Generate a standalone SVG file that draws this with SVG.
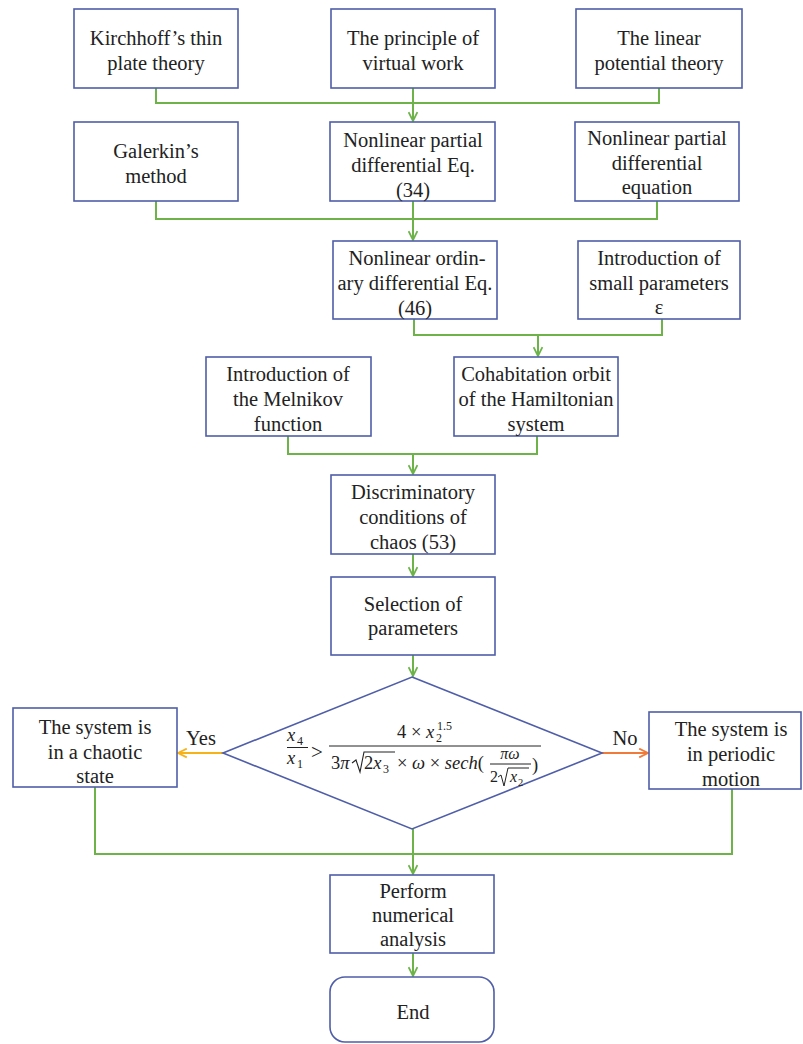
<svg xmlns="http://www.w3.org/2000/svg" width="803" height="1044" viewBox="0 0 803 1044">
<defs>
<style>
.box{fill:#fff;stroke:#4f5ea8;stroke-width:1.6}
.t{font-family:"Liberation Serif","Times New Roman","DejaVu Serif",serif;font-size:20.5px;fill:#222;text-anchor:middle}
.f{font-family:"Liberation Serif","Times New Roman","DejaVu Serif",serif;fill:#222}
.fi{font-style:italic}
.g{fill:none;stroke:#6db34a;stroke-width:2}
.y{fill:none;stroke:#f7b21a;stroke-width:2}
.o{fill:none;stroke:#f07a3a;stroke-width:2}
</style>
<marker id="ag" viewBox="0 0 10 10" refX="9" refY="5" markerWidth="5.5" markerHeight="5.5" markerUnits="strokeWidth" orient="auto"><path d="M1,1 L9,5 L1,9" fill="none" stroke="#6db34a" stroke-width="1.6"/></marker>
<marker id="ay" viewBox="0 0 10 10" refX="9" refY="5" markerWidth="5.5" markerHeight="5.5" markerUnits="strokeWidth" orient="auto"><path d="M1,1 L9,5 L1,9" fill="none" stroke="#f7b21a" stroke-width="1.6"/></marker>
<marker id="ao" viewBox="0 0 10 10" refX="9" refY="5" markerWidth="5.5" markerHeight="5.5" markerUnits="strokeWidth" orient="auto"><path d="M1,1 L9,5 L1,9" fill="none" stroke="#f07a3a" stroke-width="1.6"/></marker>
</defs>
<rect width="803" height="1044" fill="#fff"/>

<g id="connectors">
<path class="g" d="M156,88 V103 H659 V88"/>
<path class="g" d="M413,88 V121" marker-end="url(#ag)"/>
<path class="g" d="M156,201 V219 H657 V201"/>
<path class="g" d="M413,201 V240" marker-end="url(#ag)"/>
<path class="g" d="M414,319 V335 H662 V319"/>
<path class="g" d="M538,335 V356" marker-end="url(#ag)"/>
<path class="g" d="M288,436 V454 H537 V436"/>
<path class="g" d="M413,454 V474" marker-end="url(#ag)"/>
<path class="g" d="M413,554 V576" marker-end="url(#ag)"/>
<path class="g" d="M413,655 V676" marker-end="url(#ag)"/>
<path class="y" d="M223,753 H178" marker-end="url(#ay)"/>
<path class="o" d="M602,753 H648" marker-end="url(#ao)"/>
<path class="g" d="M95,787 V854 H732 V789"/>
<path class="g" d="M413,829 V874" marker-end="url(#ag)"/>
<path class="g" d="M413,953 V976" marker-end="url(#ag)"/>
<text class="t" x="201" y="745">Yes</text>
<text class="t" x="625" y="745">No</text>
</g>

<g id="n1"><rect class="box" x="74" y="9" width="164" height="79"/><text class="t" x="156" y="45">Kirchhoff’s thin</text><text class="t" x="156" y="70">plate theory</text></g>
<g id="n2"><rect class="box" x="331" y="9" width="164" height="79"/><text class="t" x="413" y="45">The principle of</text><text class="t" x="413" y="70">virtual work</text></g>
<g id="n3"><rect class="box" x="576" y="9" width="166" height="79"/><text class="t" x="659" y="45">The linear</text><text class="t" x="659" y="70">potential theory</text></g>
<g id="n4"><rect class="box" x="74" y="122" width="164" height="79"/><text class="t" x="156" y="158">Galerkin’s</text><text class="t" x="156" y="183">method</text></g>
<g id="n5"><rect class="box" x="330" y="122" width="165" height="79"/><text class="t" x="413" y="147">Nonlinear partial</text><text class="t" x="413" y="172">differential Eq.</text><text class="t" x="413" y="197">(34)</text></g>
<g id="n6"><rect class="box" x="575" y="122" width="164" height="79"/><text class="t" x="657" y="145">Nonlinear partial</text><text class="t" x="657" y="170">differential</text><text class="t" x="657" y="194">equation</text></g>
<g id="n7"><rect class="box" x="333" y="241" width="164" height="78"/><text class="t" x="417" y="265">Nonlinear ordin-</text><text class="t" x="415" y="290">ary differential Eq.</text><text class="t" x="415" y="315">(46)</text></g>
<g id="n8"><rect class="box" x="578" y="241" width="162" height="78"/><text class="t" x="659" y="265">Introduction of</text><text class="t" x="659" y="290">small parameters</text><text class="t" x="659" y="314">ε</text></g>
<g id="n9"><rect class="box" x="206" y="357" width="165" height="79"/><text class="t" x="288" y="381">Introduction of</text><text class="t" x="288" y="406">the Melnikov</text><text class="t" x="288" y="431">function</text></g>
<g id="n10"><rect class="box" x="454" y="357" width="164" height="79"/><text class="t" x="536" y="381">Cohabitation orbit</text><text class="t" x="536" y="406">of the Hamiltonian</text><text class="t" x="536" y="431">system</text></g>
<g id="n11"><rect class="box" x="331" y="475" width="164" height="79"/><text class="t" x="413" y="499">Discriminatory</text><text class="t" x="413" y="524">conditions of</text><text class="t" x="413" y="549">chaos (53)</text></g>
<g id="n12"><rect class="box" x="331" y="577" width="164" height="78"/><text class="t" x="413" y="611">Selection of</text><text class="t" x="413" y="635">parameters</text></g>
<g id="n13"><path d="M412,677 L602,753 L412,829 L223,753 Z" fill="#fff" stroke="#4f5ea8" stroke-width="1.6"/>
<g class="f">
<text x="287" y="741" font-size="18.5" class="fi">x</text><text x="297" y="745" font-size="12">4</text>
<line x1="287" y1="747.5" x2="308" y2="747.5" stroke="#222" stroke-width="1"/>
<text x="287" y="764" font-size="18.5" class="fi">x</text><text x="297" y="768" font-size="12">1</text>
<text x="311" y="759" font-size="21">&gt;</text>
<line x1="329" y1="746" x2="541" y2="746" stroke="#222" stroke-width="1"/>
<text x="397" y="738" font-size="18.5">4 × </text><text x="426" y="738" font-size="18.5" class="fi">x</text><text x="436" y="742" font-size="12">2</text><text x="437" y="730" font-size="12">1.5</text>
<text x="331" y="769" font-size="18.5">3<tspan class="fi">π</tspan></text>
<path d="M352,763 L356,760 L360,772 L364,752 L395,752" fill="none" stroke="#222" stroke-width="1.1"/>
<text x="364" y="769" font-size="18.5">2<tspan class="fi">x</tspan></text><text x="383" y="773" font-size="12">3</text>
<text x="397" y="769" font-size="18.5">× <tspan class="fi">ω</tspan> × <tspan class="fi">sech</tspan>(</text>
<text x="510" y="759" font-size="16" class="fi" text-anchor="middle">πω</text>
<line x1="490" y1="764" x2="531" y2="764" stroke="#222" stroke-width="1"/>
<text x="490" y="782" font-size="16">2</text>
<path d="M498,777 L501,775 L504,786 L508,768 L529,768" fill="none" stroke="#222" stroke-width="1"/>
<text x="510" y="782" font-size="16" class="fi">x</text><text x="518" y="786" font-size="10.5">2</text>
<text x="532" y="771" font-size="18.5">)</text>
</g></g>
<g id="n14"><rect class="box" x="13" y="708" width="164" height="79"/><text class="t" x="95" y="734">The system is</text><text class="t" x="95" y="759">in a chaotic</text><text class="t" x="95" y="783">state</text></g>
<g id="n15"><rect class="box" x="649" y="712" width="152" height="77"/><text class="t" x="731" y="736">The system is</text><text class="t" x="731" y="761">in periodic</text><text class="t" x="731" y="786">motion</text></g>
<g id="n16"><rect class="box" x="330" y="875" width="164" height="78"/><text class="t" x="413" y="898">Perform</text><text class="t" x="413" y="922">numerical</text><text class="t" x="413" y="946">analysis</text></g>
<g id="n17"><rect class="box" x="330" y="977" width="164" height="65" rx="15"/><text class="t" x="413" y="1019">End</text></g>
</svg>
